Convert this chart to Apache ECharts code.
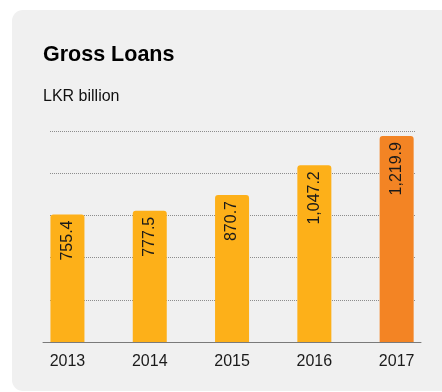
<!DOCTYPE html>
<html>
<head>
<meta charset="utf-8">
<script src="https://cdn.jsdelivr.net/npm/echarts@6/dist/echarts.min.js"></script>
<style>
html,body{margin:0;padding:0;background:#ffffff;}
#panel{position:absolute;left:12px;top:10px;width:450px;height:381px;background:#f0f0f0;border-radius:11px;}
#chart{position:absolute;left:0;top:0;width:442px;height:392px;}
</style>
</head>
<body>
<div id="panel"></div>
<div id="chart"></div>
<script>
var categories = ['2013', '2014', '2015', '2016', '2017'];
var loans = [755.4, 777.5, 870.7, 1047.2, 1219.9];
var highlightIndex = 4;
var yMin = 0, yMax = 1250, yStep = 250;

var FONT = '"Liberation Sans", Arial, Helvetica, sans-serif';
function fmt(v) {
  var parts = v.toFixed(1).split('.');
  parts[0] = parts[0].replace(/\B(?=(\d{3})+(?!\d))/g, ',');
  return parts.join('.');
}

var chart = echarts.init(document.getElementById('chart'), null, {renderer: 'canvas'});
chart.setOption({
  backgroundColor: 'transparent',
  animation: false,
  title: [
    {text: 'Gross Loans', left: 43, top: 44, padding: 0,
     textStyle: {fontFamily: FONT, fontSize: 21.5, fontWeight: 'bold', color: '#000'}},
    {text: 'LKR billion', left: 43, top: 89, padding: 0,
     textStyle: {fontFamily: FONT, fontSize: 16, fontWeight: 'normal', color: '#111'}}
  ],
  grid: [
    {left: 26.3, right: 4.2, top: 131, bottom: 50},
    {left: 50, right: 27, top: 131, bottom: 50},
    {left: 43, right: 21, top: 131, bottom: 50}
  ],
  xAxis: [
    {type: 'category', gridIndex: 0, data: categories,
     axisLine: {show: false}, axisTick: {show: false},
     axisLabel: {margin: 12, fontFamily: FONT, fontSize: 16, color: '#1a1a1a'}},
    {type: 'value', gridIndex: 1, show: false},
    {type: 'category', gridIndex: 2, data: categories,
     axisLine: {show: true, lineStyle: {color: '#7a7a7a', width: 1}},
     axisTick: {show: false}, axisLabel: {show: false}}
  ],
  yAxis: [
    {type: 'value', gridIndex: 0, min: yMin, max: yMax, interval: yStep, show: false,
     splitLine: {show: false}},
    {type: 'value', gridIndex: 1, min: yMin, max: yMax, interval: yStep,
     axisLine: {show: false}, axisTick: {show: false}, axisLabel: {show: false},
     splitLine: {show: true, lineStyle: {color: '#8c8c8c', type: [1, 1], width: 1}}},
    {type: 'value', gridIndex: 2, min: yMin, max: yMax, show: false}
  ],
  series: [{
    type: 'bar',
    xAxisIndex: 0, yAxisIndex: 0,
    barWidth: 34,
    data: loans.map(function (v, i) {
      return {value: v, itemStyle: {color: i === highlightIndex ? '#f38424' : '#fdb019'}};
    }),
    itemStyle: {borderRadius: [3, 3, 0, 0]},
    label: {
      show: true,
      position: 'insideTop',
      rotate: 90,
      align: 'right',
      verticalAlign: 'middle',
      distance: 6,
      fontFamily: FONT,
      fontSize: 16,
      color: '#1a1a1a',
      formatter: function (p) { return fmt(p.value); }
    }
  }]
});
</script>
</body>
</html>
